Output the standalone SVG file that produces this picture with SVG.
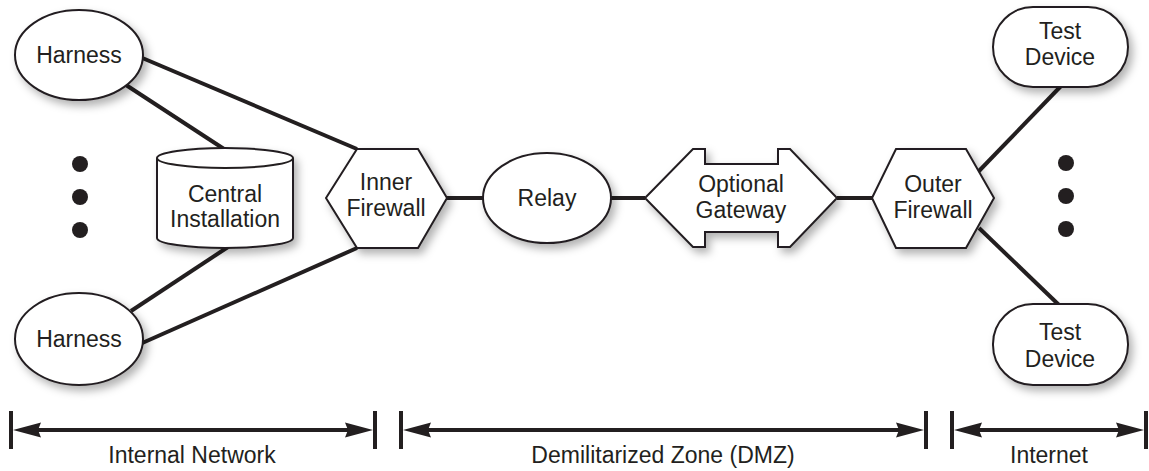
<svg xmlns="http://www.w3.org/2000/svg" width="1149" height="471" viewBox="0 0 1149 471">
<defs>
<filter id="sh" x="-20%" y="-20%" width="150%" height="160%">
<feDropShadow dx="4" dy="5" stdDeviation="4" flood-color="#000" flood-opacity="0.3"/>
</filter>
<marker id="ah" markerUnits="userSpaceOnUse" markerWidth="30" markerHeight="18" viewBox="0 -9 30 18" refX="18" refY="0" orient="auto-start-reverse">
<path d="M28,0 L0,-7.5 L3,0 L0,7.5 Z" fill="#231f20"/>
</marker>
<style>
.n{fill:#fff;stroke:#231f20;stroke-width:2;filter:url(#sh)}
.c{stroke:#231f20;stroke-width:4;fill:none}
.t{font-family:"Liberation Sans",Arial,sans-serif;font-size:23px;fill:#231f20;text-anchor:middle}
.dot{fill:#231f20}
.tick{stroke:#231f20;stroke-width:4}
.dim{stroke:#231f20;stroke-width:4;marker-start:url(#ah);marker-end:url(#ah)}
</style>
</defs>
<rect width="1149" height="471" fill="#fff"/>
<g id="connectors">
<line class="c" x1="140" y1="57" x2="357" y2="149"/>
<line class="c" x1="126" y1="85" x2="224" y2="149"/>
<line class="c" x1="131" y1="311" x2="228" y2="247"/>
<line class="c" x1="140" y1="344" x2="357" y2="248"/>
<line class="c" x1="447" y1="198" x2="483" y2="198"/>
<line class="c" x1="611" y1="198" x2="645" y2="198"/>
<line class="c" x1="837" y1="198" x2="872" y2="198"/>
<line class="c" x1="978" y1="172" x2="1061" y2="86"/>
<line class="c" x1="979" y1="228" x2="1059" y2="305"/>
</g>
<g id="harness-top">
<ellipse class="n" cx="79" cy="55" rx="64" ry="45"/>
<text class="t" x="79" y="63">Harness</text>
</g>
<g id="harness-bottom">
<ellipse class="n" cx="79" cy="339" rx="64" ry="46"/>
<text class="t" x="79" y="347">Harness</text>
</g>
<g id="dots-left">
<circle class="dot" cx="80" cy="164" r="8"/>
<circle class="dot" cx="80" cy="197" r="8"/>
<circle class="dot" cx="80" cy="230" r="8"/>
</g>
<g id="central-installation">
<path class="n" d="M157,158 A68,10 0 0,1 293,158 V238 A68,10 0 0,1 157,238 Z"/>
<path d="M157,158 A68,10 0 0,0 293,158" fill="none" stroke="#231f20" stroke-width="2"/>
<text class="t" x="225" y="202">Central</text>
<text class="t" x="225" y="227">Installation</text>
</g>
<g id="inner-firewall">
<polygon class="n" points="326,198 357,149 418,149 447,198 418,248 357,248"/>
<text class="t" x="386" y="190">Inner</text>
<text class="t" x="386" y="216">Firewall</text>
</g>
<g id="relay">
<ellipse class="n" cx="547" cy="198" rx="64" ry="45"/>
<text class="t" x="547" y="206">Relay</text>
</g>
<g id="optional-gateway">
<polygon class="n" points="645,198 693,149 705,149 705,164 778,164 778,149 790,149 837,198 790,247 778,247 778,232 705,232 705,247 693,247"/>
<text class="t" x="741" y="192">Optional</text>
<text class="t" x="741" y="218">Gateway</text>
</g>
<g id="outer-firewall">
<polygon class="n" points="872,198 896,149 966,149 994,198 966,248 896,248"/>
<text class="t" x="933" y="192">Outer</text>
<text class="t" x="933" y="218">Firewall</text>
</g>
<g id="test-device-top">
<rect class="n" x="993" y="7" width="135" height="80" rx="40" ry="40"/>
<text class="t" x="1060" y="39">Test</text>
<text class="t" x="1060" y="65">Device</text>
</g>
<g id="test-device-bottom">
<rect class="n" x="993" y="304" width="135" height="81" rx="40" ry="40"/>
<text class="t" x="1060" y="340">Test</text>
<text class="t" x="1060" y="367">Device</text>
</g>
<g id="dots-right">
<circle class="dot" cx="1066" cy="163" r="8"/>
<circle class="dot" cx="1066" cy="196" r="8"/>
<circle class="dot" cx="1066" cy="229" r="8"/>
</g>
<g id="zone-internal">
<line class="tick" x1="11" y1="411" x2="11" y2="449"/>
<line class="tick" x1="375" y1="411" x2="375" y2="449"/>
<line class="dim" x1="23" y1="430" x2="363" y2="430"/>
<text class="t" x="192" y="463">Internal Network</text>
</g>
<g id="zone-dmz">
<line class="tick" x1="401" y1="411" x2="401" y2="449"/>
<line class="tick" x1="926" y1="411" x2="926" y2="449"/>
<line class="dim" x1="413" y1="430" x2="914" y2="430"/>
<text class="t" x="663" y="463">Demilitarized Zone (DMZ)</text>
</g>
<g id="zone-internet">
<line class="tick" x1="952" y1="411" x2="952" y2="449"/>
<line class="tick" x1="1146" y1="411" x2="1146" y2="449"/>
<line class="dim" x1="964" y1="430" x2="1134" y2="430"/>
<text class="t" x="1049" y="463">Internet</text>
</g>
</svg>
